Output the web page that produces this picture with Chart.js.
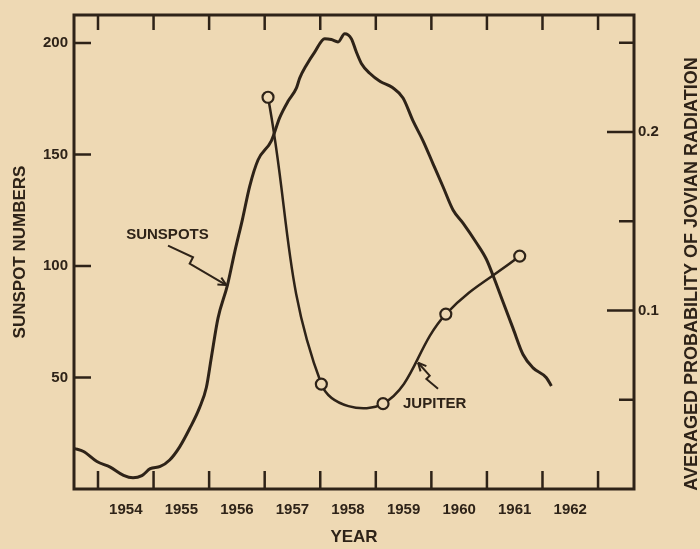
<!DOCTYPE html>
<html>
<head>
<meta charset="utf-8">
<script src="https://cdn.jsdelivr.net/npm/chart.js@4.4.1/dist/chart.umd.min.js"></script>
<style>
html,body{margin:0;padding:0;background:#eed9b4;}
canvas{display:block;}
</style>
</head>
<body>
<canvas id="c" width="700" height="549"></canvas>
<script>
// ---- data ----
const sunspotYears = [1953.57,1953.74,1953.98,1954.22,1954.46,1954.63,1954.79,1954.94,1955.12,1955.29,1955.47,1955.65,1955.83,1955.95,1956.04,1956.16,1956.33,1956.46,1956.60,1956.73,1956.88,1957.12,1957.27,1957.42,1957.57,1957.63,1957.75,1957.90,1958.08,1958.20,1958.32,1958.44,1958.56,1958.65,1958.74,1958.89,1959.08,1959.30,1959.49,1959.67,1959.85,1960.03,1960.21,1960.39,1960.57,1960.81,1960.99,1961.11,1961.29,1961.47,1961.65,1961.83,1962.07,1962.16];
const sunspotValues = [18.2,16.8,12.3,9.8,6.1,5.0,6.0,9.1,10.1,13.0,18.9,27.1,36.6,45.5,59,76.6,91.4,106.2,120.9,135.7,147.5,156.1,166.5,173.8,179.7,184.2,190.0,195.9,201.9,201.5,200.4,204.1,201.9,195.9,190.8,186.4,182.7,180.0,175.3,165.0,156.1,145.8,135.5,125.1,119.2,110.4,103.0,95.7,83.8,72.0,60.3,54.3,49.9,46.2];
const jupiterYears = [1957.06,1958.02,1959.13,1960.26,1961.59];
const jupiterProb = [0.2195,0.0588,0.0478,0.0980,0.1305];
const yearLabels = [1954,1955,1956,1957,1958,1959,1960,1961,1962];
const yearBoundaries = [1954,1955,1956,1957,1958,1959,1960,1961,1962,1963];
const sunspotTicks = [50,100,150,200];
const probLabelTicks = [0.1,0.2];
const probMarkTicks = [0.05,0.1,0.15,0.2,0.25];

// ---- annotation text / arrow paths (in data units of x / left y) ----
const noteSunspots = {text:'SUNSPOTS', at:[1955.25,114.1],
  path:[[1955.26,109.1],[1955.71,103.9],[1955.65,101.0],[1956.31,91.4]]};
const noteJupiter = {text:'JUPITER', at:[1960.06,38.3],
  path:[[1960.12,44.9],[1959.91,49.3],[1959.97,50.8],[1959.76,56.6]]};

const ink = '#2e2318';
const paper = '#eed9b4';
const FONT = '"Liberation Sans", Arial, sans-serif';

const framePlugin = {
  id:'frame',
  beforeDraw(chart){
    const ctx = chart.ctx;
    ctx.save(); ctx.fillStyle = paper; ctx.fillRect(0,0,chart.width,chart.height); ctx.restore();
  },
  afterDraw(chart){
    const {ctx, chartArea:a, scales} = chart;
    ctx.save();
    ctx.strokeStyle = ink; ctx.fillStyle = ink;
    ctx.lineWidth = 3;
    ctx.strokeRect(a.left, a.top, a.right-a.left, a.bottom-a.top);
    ctx.lineWidth = 2.5;
    ctx.beginPath();
    yearBoundaries.forEach(v=>{
      const x = scales.x.getPixelForValue(v);
      ctx.moveTo(x,a.bottom); ctx.lineTo(x,a.bottom-18);
      ctx.moveTo(x,a.top); ctx.lineTo(x,a.top+15);
    });
    sunspotTicks.forEach(v=>{
      const y = scales.y.getPixelForValue(v);
      ctx.moveTo(a.left,y); ctx.lineTo(a.left+17,y);
    });
    probMarkTicks.forEach(v=>{
      const y = scales.y2.getPixelForValue(v);
      const major = probLabelTicks.includes(v);
      ctx.moveTo(a.right,y); ctx.lineTo(a.right-(major?27:15),y);
    });
    ctx.stroke();

    // right axis title, reading bottom-to-top
    ctx.save();
    ctx.font = 'bold 18px ' + FONT;
    ctx.textAlign = 'center'; ctx.textBaseline = 'middle';
    ctx.translate(692, (a.top+a.bottom)/2 + 22);
    ctx.rotate(-Math.PI/2);
    ctx.fillText('AVERAGED PROBABILITY OF JOVIAN RADIATION', 0, 0);
    ctx.restore();

    // annotations
    const px = p => [scales.x.getPixelForValue(p[0]), scales.y.getPixelForValue(p[1])];
    [noteSunspots, noteJupiter].forEach(n=>{
      ctx.font = 'bold 15px ' + FONT;
      ctx.textAlign = 'center'; ctx.textBaseline = 'middle';
      const t = px(n.at);
      ctx.fillText(n.text, t[0], t[1]);
      const pts = n.path.map(px);
      ctx.lineWidth = 2; ctx.lineJoin = 'miter';
      ctx.beginPath();
      pts.forEach((p,i)=> i ? ctx.lineTo(p[0],p[1]) : ctx.moveTo(p[0],p[1]));
      ctx.stroke();
      const tip = pts[pts.length-1], prev = pts[pts.length-2];
      const ang = Math.atan2(tip[1]-prev[1], tip[0]-prev[0]);
      ctx.beginPath();
      [0.45,-0.45].forEach(d=>{
        ctx.moveTo(tip[0],tip[1]);
        ctx.lineTo(tip[0]-9*Math.cos(ang+d), tip[1]-9*Math.sin(ang+d));
      });
      ctx.stroke();
    });
    ctx.restore();
  }
};

Chart.defaults.font.family = FONT;
Chart.defaults.font.weight = 'bold';
Chart.defaults.color = ink;

new Chart(document.getElementById('c'), {
  type:'line',
  data:{
    datasets:[
      {
        label:'Jupiter',
        data: jupiterYears.map((x,i)=>({x, y:jupiterProb[i]})),
        yAxisID:'y2',
        borderColor: ink, borderWidth: 2.5,
        pointRadius: 5.5, pointBorderWidth: 2.2,
        pointBackgroundColor: paper, pointBorderColor: ink,
        tension: 0.4, fill:false
      },
      {
        label:'Sunspots',
        data: sunspotYears.map((x,i)=>({x, y:sunspotValues[i]})),
        yAxisID:'y',
        borderColor: ink, borderWidth: 3,
        pointRadius: 0, cubicInterpolationMode:'monotone', fill:false
      }
    ]
  },
  options:{
    responsive:false, animation:false,
    devicePixelRatio:1,
    layout:{padding:{top:10,left:0,right:0,bottom:0}},
    plugins:{legend:{display:false}, tooltip:{enabled:false}},
    scales:{
      x:{
        type:'linear', position:'bottom',
        min:1953.568, max:1963.647,
        grid:{display:false, drawTicks:false}, border:{display:false},
        afterBuildTicks: s => { s.ticks = yearLabels.map(v=>({value:v+0.5})); },
        afterFit: s => { s.height = 60; },
        ticks:{ padding:12, maxRotation:0, autoSkip:false,
          font:{size:15, weight:'bold'}, color:ink,
          callback: v => String(Math.floor(v)) },
        title:{display:true, text:'YEAR', font:{size:17, weight:'bold'}, color:ink, padding:{top:0,bottom:1}}
      },
      y:{
        type:'linear', position:'left', min:0, max:212.5,
        grid:{display:false, drawTicks:false}, border:{display:false},
        afterBuildTicks: s => { s.ticks = sunspotTicks.map(v=>({value:v})); },
        afterFit: s => { s.width = 74; },
        ticks:{ padding:6, font:{size:15, weight:'bold'}, color:ink, callback: v => String(v) },
        title:{display:true, text:'SUNSPOT NUMBERS', font:{size:17, weight:'bold'}, color:ink, padding:{top:10,bottom:0}}
      },
      y2:{
        type:'linear', position:'right', min:0, max:0.2656,
        grid:{display:false, drawTicks:false}, border:{display:false},
        afterBuildTicks: s => { s.ticks = probLabelTicks.map(v=>({value:v})); },
        afterFit: s => { s.width = 66; },
        ticks:{ padding:4, font:{size:15, weight:'bold'}, color:ink, callback: v => v.toFixed(1) }
      }
    }
  },
  plugins:[framePlugin]
});
</script>
</body>
</html>
